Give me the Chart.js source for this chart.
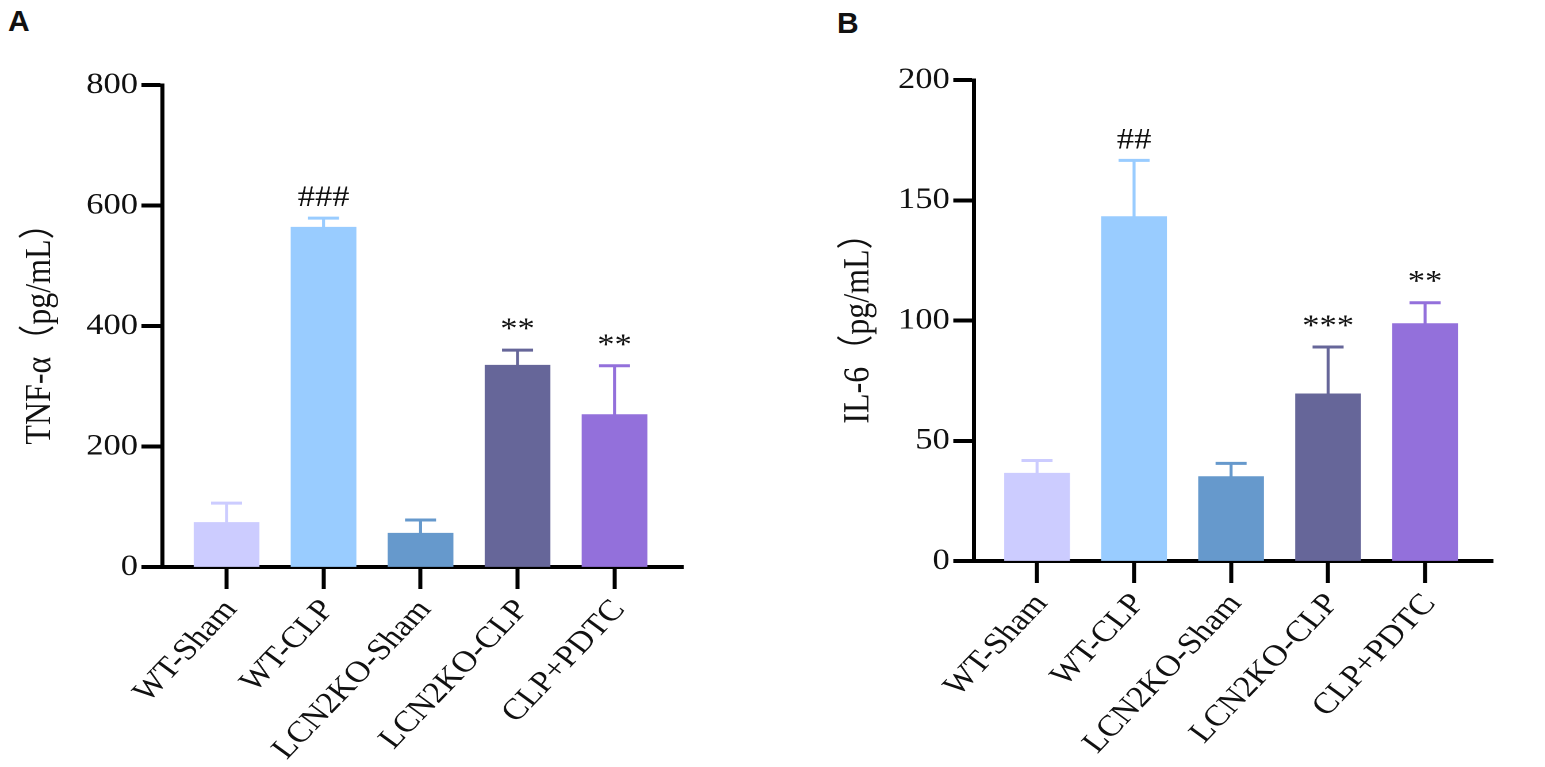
<!DOCTYPE html>
<html>
<head>
<meta charset="utf-8">
<script src="https://cdn.jsdelivr.net/npm/chart.js@4.4.1/dist/chart.umd.min.js"></script>
<style>
  body { margin: 0; background: #fff; width: 1545px; height: 767px; overflow: hidden; position: relative; }
  .panel { position: absolute; top: 0; transform: scaleX(1.15); transform-origin: 0 0; }
  .tag { position: absolute; font: bold 30px "Liberation Sans", Arial, sans-serif; line-height: 30px; color: #111; }
</style>
</head>
<body>
<div class="tag" style="left:8px;top:6px">A</div>
<div class="tag" style="left:837px;top:8px">B</div>
<div class="panel" style="left:0"><canvas id="chartA" width="670" height="767"></canvas></div>
<div class="panel" style="left:800px"><canvas id="chartB" width="648" height="767"></canvas></div>
<script>
// groups on the x axis, same for both panels
const groups = ['WT-Sham', 'WT-CLP', 'LCN2KO-Sham', 'LCN2KO-CLP', 'CLP+PDTC'];
const barColors = ['#CCCCFF', '#99CCFF', '#6699CC', '#666699', '#9370DB'];

// panel A: TNF-a, mean and mean+SD
const tnfMean  = [74, 564, 56, 335, 253];
const tnfUpper = [106, 579, 78, 360, 334];
const tnfMarks = ['', '###', '', '**', '**'];
const tnfTicks = [0, 200, 400, 600, 800];

// panel B: IL-6
const il6Mean  = [36.5, 143.2, 35.1, 69.5, 98.7];
const il6Upper = [41.8, 166.6, 40.6, 89.0, 107.4];
const il6Marks = ['', '##', '', '***', '**'];
const il6Ticks = [0, 50, 100, 150, 200];

Chart.defaults.font.family = '"Liberation Serif", "Times New Roman", "Noto Sans CJK SC", serif';
Chart.defaults.color = '#111';

function errorPlugin(upper, marks) {
  return {
    id: 'errorBars',
    afterDatasetsDraw(chart) {
      const ctx = chart.ctx;
      const y = chart.scales.y;
      const meta = chart.getDatasetMeta(0);
      ctx.save();
      meta.data.forEach((bar, i) => {
        const top = y.getPixelForValue(upper[i]);
        ctx.strokeStyle = barColors[i];
        ctx.lineWidth = 2.6;
        ctx.beginPath();
        ctx.moveTo(bar.x, bar.y);
        ctx.lineTo(bar.x, top);
        ctx.stroke();
        ctx.lineWidth = 3;
        ctx.beginPath();
        ctx.moveTo(bar.x - 13.5, top);
        ctx.lineTo(bar.x + 13.5, top);
        ctx.stroke();
        if (marks[i]) {
          ctx.fillStyle = '#111';
          ctx.font = '30px "Liberation Serif", serif';
          ctx.textAlign = 'center';
          ctx.textBaseline = 'alphabetic';
          ctx.fillText(marks[i], bar.x, top - 12);
        }
      });
      ctx.restore();
    }
  };
}

function makeBarPlot(id, g) {
  new Chart(document.getElementById(id), {
    type: 'bar',
    data: {
      datasets: [{
        data: g.mean.map((v, i) => ({ x: i, y: v })),
        backgroundColor: barColors,
        borderWidth: 0,
        barThickness: 56.5
      }]
    },
    options: {
      responsive: false,
      animation: false,
      devicePixelRatio: 2,
      layout: { padding: { top: g.top, right: g.right, left: 0, bottom: 0 } },
      plugins: { legend: { display: false }, tooltip: { enabled: false } },
      scales: {
        x: {
          type: 'linear',
          min: g.xMin,
          max: g.xMax,
          offset: false,
          afterBuildTicks: s => { s.ticks = groups.map((n, i) => ({ value: i })); },
          afterFit: s => { s.height = 767 - g.bottom; },
          ticks: {
            autoSkip: false,
            minRotation: 50,
            maxRotation: 50,
            padding: 4,
            labelOffset: 4,
            font: { size: 30 },
            color: '#111',
            callback: v => groups[v]
          },
          grid: { offset: false, drawOnChartArea: false, tickLength: 22, tickWidth: 3.5, tickColor: '#000' },
          border: { color: '#000', width: 4 }
        },
        y: {
          min: 0,
          max: g.ticks[g.ticks.length - 1],
          afterBuildTicks: s => { s.ticks = g.ticks.map(v => ({ value: v })); },
          afterFit: s => { s.width = g.axisX; },
          ticks: { font: { size: 30 }, color: '#111', padding: 3 },
          grid: { drawOnChartArea: false, tickLength: 18, tickWidth: 4, tickColor: '#000' },
          border: { color: '#000', width: 3.5 },
          title: {
            display: true,
            text: g.title,
            font: { size: 32 },
            color: '#111',
            padding: { top: g.titlePad, bottom: 0 }
          }
        }
      }
    },
    plugins: [errorPlugin(g.upper, g.marks)]
  });
}

makeBarPlot('chartA', {
  mean: tnfMean, upper: tnfUpper, marks: tnfMarks, ticks: tnfTicks,
  title: 'TNF-α（pg/mL）',
  axisX: 141, top: 85, bottom: 567, right: 76, xMin: -0.664, xMax: 4.707, titlePad: 16
});
makeBarPlot('chartB', {
  mean: il6Mean, upper: il6Upper, marks: il6Marks, ticks: il6Ticks,
  title: 'IL-6（pg/mL）',
  axisX: 151.3, top: 80, bottom: 561, right: 45.4, xMin: -0.65, xMax: 4.70, titlePad: 32
});
</script>
</body>
</html>
